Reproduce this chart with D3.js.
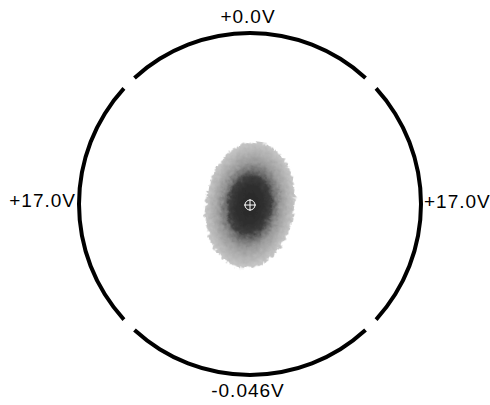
<!DOCTYPE html>
<html>
<head>
<meta charset="utf-8">
<script src="https://cdn.jsdelivr.net/npm/d3@7"></script>
<style>
  html, body { margin: 0; padding: 0; background: #ffffff; }
  svg { display: block; }
</style>
</head>
<body>
<svg id="chart" width="490" height="405"></svg>
<script>
// electrodes: top, right, bottom, left
const electrodeAngles = [0, 90, 180, 270];
const electrodeLabels = ["+0.0V", "+17.0V", "-0.046V", "+17.0V"];
const gapDegrees = 5;

// beam spot, in units of the electrode radius
const spotCenter = [0.0, -0.006];
const spotRadius = [0.26, 0.37];
const spotTilt = 8;
const profileRadius = [0, 0.3, 0.45, 0.55, 0.68, 0.85, 1.0];
const profileLevel = [0.84, 0.82, 0.76, 0.56, 0.4, 0.3, 0.22];

const svg = d3.select("#chart");
const cx = 250, cy = 204, R = 171;

const x = d3.scaleLinear().domain([-1, 1]).range([cx - R, cx + R]);
const y = d3.scaleLinear().domain([-1, 1]).range([cy + R, cy - R]);
const gray = d3.scaleLinear().domain([0, 1]).range(["#ffffff", "#000000"]);

const defs = svg.append("defs");

const grad = defs.append("radialGradient")
    .attr("id", "spotGrad")
    .attr("cx", "50%").attr("cy", "50%").attr("r", "50%");
grad.selectAll("stop")
    .data(profileRadius)
    .join("stop")
    .attr("offset", d => `${d * 100}%`)
    .attr("stop-color", (d, i) => gray(profileLevel[i]));

const rough = defs.append("filter")
    .attr("id", "rough")
    .attr("x", "-20%").attr("y", "-20%").attr("width", "140%").attr("height", "140%");
rough.append("feTurbulence")
    .attr("type", "fractalNoise")
    .attr("baseFrequency", 0.25)
    .attr("numOctaves", 2)
    .attr("seed", 3)
    .attr("result", "noise");
rough.append("feDisplacementMap")
    .attr("in", "SourceGraphic")
    .attr("in2", "noise")
    .attr("scale", 7)
    .attr("xChannelSelector", "R")
    .attr("yChannelSelector", "G");

// beam spot
svg.append("g")
    .attr("transform", `translate(${x(spotCenter[0])}, ${y(spotCenter[1])}) rotate(${spotTilt})`)
    .append("ellipse")
    .attr("rx", x(spotRadius[0]) - x(0))
    .attr("ry", x(spotRadius[1]) - x(0))
    .attr("fill", "url(#spotGrad)")
    .attr("filter", "url(#rough)");

// electrodes
const arc = d3.arc()
    .innerRadius(R - 2)
    .outerRadius(R + 2);

svg.append("g")
    .attr("transform", `translate(${cx}, ${cy})`)
    .selectAll("path")
    .data(electrodeAngles)
    .join("path")
    .attr("fill", "#000000")
    .attr("d", a => arc({
        startAngle: (a - 45 + gapDegrees / 2) * Math.PI / 180,
        endAngle: (a + 45 - gapDegrees / 2) * Math.PI / 180
    }));

// voltage labels
const labelPos = [
    { x: cx - 2, y: cy - R - 10, anchor: "middle" },
    { x: cx + R + 3, y: cy + 4, anchor: "start" },
    { x: cx - 2, y: cy + R + 22, anchor: "middle" },
    { x: cx - R - 3, y: cy + 3, anchor: "end" }
];

svg.append("g")
    .selectAll("text")
    .data(electrodeLabels)
    .join("text")
    .attr("x", (d, i) => labelPos[i].x)
    .attr("y", (d, i) => labelPos[i].y)
    .attr("text-anchor", (d, i) => labelPos[i].anchor)
    .attr("font-family", "'Liberation Sans', Arial, sans-serif")
    .attr("font-size", "19px")
    .attr("letter-spacing", "1px")
    .attr("fill", "#000000")
    .text(d => d);

// crosshair at spot centre
const mark = svg.append("g")
    .attr("transform", `translate(${x(spotCenter[0])}, ${y(spotCenter[1])})`)
    .attr("stroke", "#ffffff")
    .attr("stroke-width", 1)
    .attr("fill", "none");
mark.append("circle").attr("r", 5);
mark.append("line").attr("x1", -6).attr("x2", 6);
mark.append("line").attr("y1", -6).attr("y2", 6);
</script>
</body>
</html>
